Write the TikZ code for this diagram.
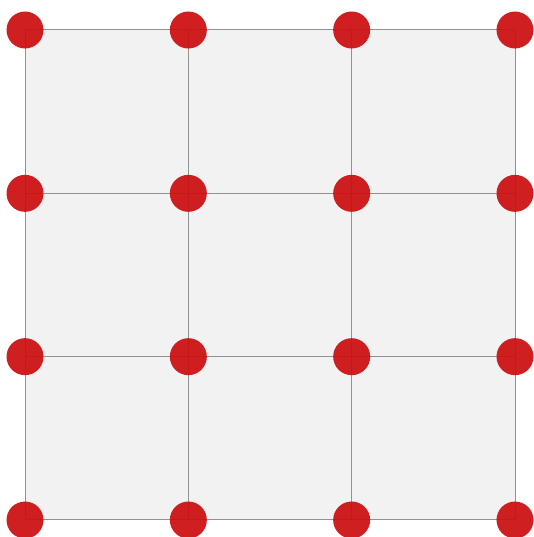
\documentclass[tikz,border=0pt]{standalone}
\definecolor{CellColor}{RGB}{242,242,242}
\definecolor{LineColor}{RGB}{145,145,145}
\definecolor{DotColor}{RGB}{204,14,16}
\usepackage{tikz}
\begin{document}
\begin{tikzpicture}[x=1pt, y=1pt]
          \tikzset{dot/.style={circle, fill=DotColor, fill opacity=0.93, minimum size=37pt, inner sep=0pt}}
          \useasboundingbox (0,0) rectangle (534,537);

          % grid points
          \foreach \i in {0,...,3}
            \foreach \j in {0,...,3}
              \coordinate (g-\i-\j) at ({25+163.33*\i}, {17+163.33*\j});

          \fill[CellColor] (g-0-0) rectangle (g-3-3);
          \foreach \k in {0,...,3} {
            \draw[LineColor, line width=1pt] (g-\k-0) -- (g-\k-3);
            \draw[LineColor, line width=1pt] (g-0-\k) -- (g-3-\k);
          }

          % red dots
          \foreach \i in {0,...,3}
            \foreach \j in {0,...,3}
              \node[dot] (d-\i-\j) at (g-\i-\j) {};
        \end{tikzpicture}
\end{document}
